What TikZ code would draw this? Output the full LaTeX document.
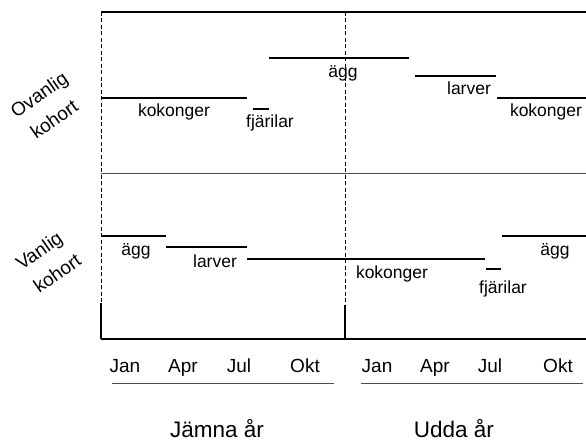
\documentclass[tikz,border=0pt]{standalone}
\usepackage{fontspec}
\setmainfont{Liberation Sans}
\begin{document}
\begin{tikzpicture}[x=1pt,y=-1pt,
  stage/.style={line width=1.6pt},
  lbl/.style={font=\fontsize{17.5}{20}\selectfont, anchor=base, inner sep=0pt},
  month/.style={font=\fontsize{19}{22}\selectfont, anchor=base, inner sep=0pt},
  year/.style={font=\fontsize{22.5}{26}\selectfont, anchor=base, inner sep=0pt},
  cohort/.style={font=\fontsize{19}{21}\selectfont, rotate=35, inner sep=0pt},
  thick frame/.style={line width=2.4pt},
  vdash/.style={line width=0.8pt, dash pattern=on 4pt off 2.5pt},
  ]
\useasboundingbox (0,0) rectangle (586,441);
% frame
\coordinate (tl) at (101,12);
\coordinate (tr) at (586,12);
\coordinate (bl) at (101,339);
\coordinate (br) at (586,339);
\coordinate (ml) at (101,173);
\coordinate (mr) at (586,173);
\coordinate (ct) at (345,12);
\coordinate (cb) at (345,339);
\coordinate (cs) at (345,305);
\coordinate (ls) at (101,303);
\draw[vdash] (tl) -- (ls);
\draw[line width=1.2pt] (ls) -- (bl);
\draw[vdash] (ct) -- (cs);
\draw[line width=1.2pt] (cs) -- (cb);
\draw[thick frame] (tl) -- (tr);
\draw[thick frame] (bl) -- (br);
\draw[line width=1pt, black!70] (ml) -- (mr);

% upper cohort
\draw[stage] (101,98) -- (247,98);
\draw[stage] (253,109) -- (269,109);
\draw[stage] (269,58) -- (409,58);
\draw[stage] (415,76) -- (496,76);
\draw[stage] (497,98) -- (586,98);
\node[lbl] (u1) at (174,117) {kokonger};
\node[lbl] (u2) at (270,128) {fjärilar};
\node[lbl] (u3) at (343,78) {ägg};
\node[lbl] (u4) at (469,95) {larver};
\node[lbl] (u5) at (546,117) {kokonger};

% lower cohort
\draw[stage] (101,236) -- (166,236);
\draw[stage] (166,247) -- (247,247);
\draw[stage] (247,259) -- (485,259);
\draw[stage] (486,269) -- (501,269);
\draw[stage] (502,236) -- (586,236);
\node[lbl] (l1) at (136,255) {ägg};
\node[lbl] (l2) at (215,267) {larver};
\node[lbl] (l3) at (392,278) {kokonger};
\node[lbl] (l4) at (503,293) {fjärilar};
\node[lbl] (l5) at (555,255) {ägg};

% cohort labels
\node[cohort] (c1a) at (40,96) {Ovanlig};
\node[cohort] (c1b) at (54,119) {kohort};
\node[cohort] (c2a) at (40,252) {Vanlig};
\node[cohort] (c2b) at (57,273) {kohort};

% months
\node[month] (m1) at (125,372) {Jan};
\node[month] (m2) at (183,372) {Apr};
\node[month] (m3) at (239,372) {Jul};
\node[month] (m4) at (305,372) {Okt};
\node[month] (m5) at (377,372) {Jan};
\node[month] (m6) at (435,372) {Apr};
\node[month] (m7) at (490,372) {Jul};
\node[month] (m8) at (558,372) {Okt};
\draw[line width=0.8pt, black!70] (112,383) -- (334,383);
\draw[line width=0.8pt, black!70] (361,383) -- (583,383);
\node[year] (y1) at (217,437) {Jämna år};
\node[year] (y2) at (454,437) {Udda år};
\end{tikzpicture}
\end{document}
